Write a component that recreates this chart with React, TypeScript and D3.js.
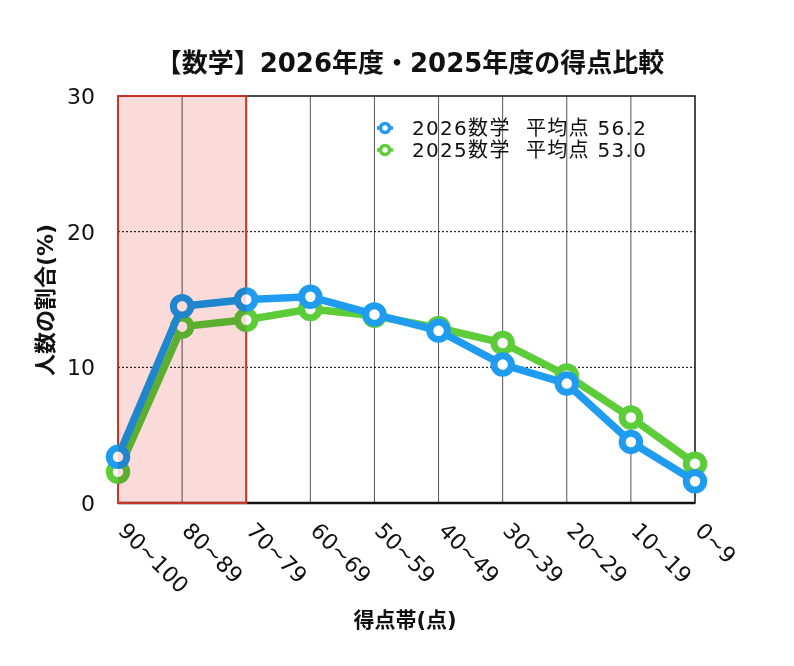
import * as d3 from 'd3';
import { useEffect, useRef } from 'react';

const WIDTH = 794;
const HEIGHT = 666;
const MARGIN = { top: 96, right: 99, bottom: 163, left: 118 };
const FONT = '"DejaVu Sans", "Noto Sans CJK JP", sans-serif';

const CATEGORIES = ['90~100', '80~89', '70~79', '60~69', '50~59', '40~49', '30~39', '20~29', '10~19', '0~9'];
const SCORES_2026 = [3.4, 14.5, 15.0, 15.2, 13.9, 12.7, 10.2, 8.8, 4.5, 1.6];
const SCORES_2025 = [2.3, 13.0, 13.5, 14.3, 13.8, 12.9, 11.8, 9.4, 6.3, 2.9];
const Y_TICKS = [0, 10, 20, 30];
const LEGEND_LABELS = ['2026数学  平均点 56.2', '2025数学  平均点 53.0'];
const HIGHLIGHT = ['90~100', '70~79'];

const BLUE = '#1f9cf0';
const GREEN = '#5ccc38';

const App = () => {
    const svgRef = useRef<SVGSVGElement>(null);

    useEffect(() => {
        if (!svgRef.current) return;
        const innerWidth = WIDTH - MARGIN.left - MARGIN.right;
        const innerHeight = HEIGHT - MARGIN.top - MARGIN.bottom;

        const svg = d3.select(svgRef.current);
        svg.selectAll('*').remove();
        const g = svg.append('g').attr('transform', `translate(${MARGIN.left},${MARGIN.top})`);

        const xScale = d3.scalePoint<string>().domain(CATEGORIES).range([0, innerWidth]).padding(0);
        const yScale = d3.scaleLinear().domain([0, 30]).range([innerHeight, 0]);

        // vertical grid
        g.append('g')
            .selectAll('line')
            .data(CATEGORIES.slice(1, -1))
            .enter()
            .append('line')
            .attr('x1', (d) => xScale(d)!)
            .attr('x2', (d) => xScale(d)!)
            .attr('y1', 0)
            .attr('y2', innerHeight)
            .attr('stroke', '#555')
            .attr('stroke-width', 1);

        // horizontal dotted grid
        g.append('g')
            .selectAll('line')
            .data(Y_TICKS.slice(1, -1))
            .enter()
            .append('line')
            .attr('x1', 0)
            .attr('x2', innerWidth)
            .attr('y1', (d) => yScale(d))
            .attr('y2', (d) => yScale(d))
            .attr('stroke', '#000')
            .attr('stroke-width', 1)
            .attr('stroke-dasharray', '2,2');

        // frame
        g.append('rect')
            .attr('x', 0)
            .attr('y', 0)
            .attr('width', innerWidth)
            .attr('height', innerHeight)
            .attr('fill', 'none')
            .attr('stroke', '#111')
            .attr('stroke-width', 1.5);
        g.append('line')
            .attr('x1', 0)
            .attr('x2', innerWidth)
            .attr('y1', innerHeight)
            .attr('y2', innerHeight)
            .attr('stroke', '#111')
            .attr('stroke-width', 2.5);

        // highlight border
        const hx0 = xScale(HIGHLIGHT[0])!;
        const hx1 = xScale(HIGHLIGHT[1])!;
        g.append('rect')
            .attr('x', hx0)
            .attr('y', 0)
            .attr('width', hx1 - hx0)
            .attr('height', innerHeight)
            .attr('fill', 'none')
            .attr('stroke', '#c8392b')
            .attr('stroke-width', 2);

        // y tick labels
        g.append('g')
            .selectAll('text')
            .data(Y_TICKS)
            .enter()
            .append('text')
            .attr('x', -23)
            .attr('y', (d) => yScale(d))
            .attr('dy', '0.36em')
            .attr('text-anchor', 'end')
            .style('font-family', FONT)
            .style('font-size', '22px')
            .attr('fill', '#111')
            .text((d) => d);

        // x tick labels
        g.append('g')
            .selectAll('text')
            .data(CATEGORIES)
            .enter()
            .append('text')
            .attr('transform', (d) => `translate(${xScale(d)! - 1},${innerHeight + 29}) rotate(45)`)
            .attr('text-anchor', 'start')
            .style('font-family', FONT)
            .style('font-size', '22px')
            .attr('fill', '#111')
            .text((d) => d);

        // lines
        const series = [
            { values: SCORES_2025, color: GREEN },
            { values: SCORES_2026, color: BLUE },
        ];
        const line = d3
            .line<number>()
            .x((_d, i) => xScale(CATEGORIES[i])!)
            .y((d) => yScale(d));

        series.forEach((s) => {
            g.append('path')
                .datum(s.values)
                .attr('d', line)
                .attr('fill', 'none')
                .attr('stroke', s.color)
                .attr('stroke-width', 7.5)
                .attr('stroke-linejoin', 'round');
            g.append('g')
                .selectAll('circle')
                .data(s.values)
                .enter()
                .append('circle')
                .attr('cx', (_d, i) => xScale(CATEGORIES[i])!)
                .attr('cy', (d) => yScale(d))
                .attr('r', 8.75)
                .attr('fill', '#fff')
                .attr('stroke', s.color)
                .attr('stroke-width', 7);
        });

        // highlight fill (multiply over the lines)
        g.append('rect')
            .attr('x', hx0)
            .attr('y', 0)
            .attr('width', hx1 - hx0)
            .attr('height', innerHeight)
            .attr('fill', '#fbdada')
            .style('mix-blend-mode', 'multiply');

        // legend
        const legend = svg.append('g').attr('transform', 'translate(385,128)');
        [BLUE, GREEN].forEach((c, i) => {
            legend
                .append('line')
                .attr('x1', -8)
                .attr('x2', 8)
                .attr('y1', i * 22)
                .attr('y2', i * 22)
                .attr('stroke', c)
                .attr('stroke-width', 3.5);
            legend
                .append('circle')
                .attr('cx', 0)
                .attr('cy', i * 22)
                .attr('r', 4.5)
                .attr('fill', '#fff')
                .attr('stroke', c)
                .attr('stroke-width', 3.5);
            legend
                .append('text')
                .attr('x', 27)
                .attr('y', i * 22)
                .attr('dy', '0.36em')
                .style('font-family', FONT)
                .style('font-size', '20px')
                .style('letter-spacing', '1.3px')
                .style('white-space', 'pre')
                .attr('fill', '#111')
                .text(LEGEND_LABELS[i]);
        });

        // title
        svg.append('text')
            .attr('x', 410)
            .attr('y', 72)
            .attr('text-anchor', 'middle')
            .style('font-family', FONT)
            .style('font-size', '26px')
            .style('font-weight', 'bold')
            .attr('fill', '#111')
            .text('【数学】2026年度・2025年度の得点比較');

        // axis titles
        svg.append('text')
            .attr('transform', 'translate(45,300) rotate(-90)')
            .attr('dy', '0.35em')
            .attr('text-anchor', 'middle')
            .style('font-family', FONT)
            .style('font-size', '22px')
            .style('font-weight', 'bold')
            .attr('fill', '#111')
            .text('人数の割合(%)');

        svg.append('text')
            .attr('x', 405)
            .attr('y', 627)
            .attr('text-anchor', 'middle')
            .style('font-family', FONT)
            .style('font-size', '21px')
            .style('font-weight', 'bold')
            .attr('fill', '#111')
            .text('得点帯(点)');
    }, []);

    return <svg ref={svgRef} width={WIDTH} height={HEIGHT} style={{ display: 'block', margin: '-8px', background: '#fff' }} />;
};

export default App;
